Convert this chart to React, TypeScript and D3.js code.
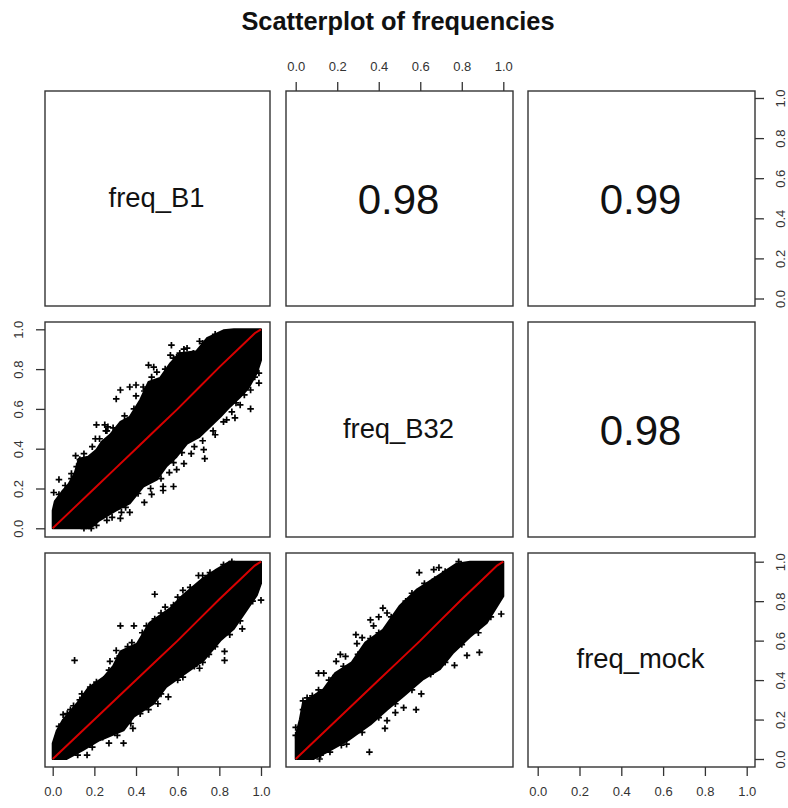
import React, { useEffect, useRef } from 'react';
import * as d3 from 'd3';

type Pt = [number, number];

// constants
const width = 788;
const height = 808;
const inkColor = '#333';
const labelColor = '#333';

// data
const title = 'Scatterplot of frequencies';
const tickValues = [0, 0.2, 0.4, 0.6, 0.8, 1];
const variableNames = ['freq_B1', 'freq_B32', 'freq_mock'];
const correlations = [
  { row: 0, col: 1, value: '0.98' },
  { row: 0, col: 2, value: '0.99' },
  { row: 1, col: 2, value: '0.98' },
];

// outline of the solid part of each cloud
const cloudB32vsB1: Pt[] = [
  [0, 0.09], [0.01, 0.135], [0.045, 0.185], [0.075, 0.22], [0.105, 0.275], [0.125, 0.35], [0.17, 0.36],
  [0.21, 0.395], [0.235, 0.435], [0.275, 0.47], [0.325, 0.535], [0.37, 0.56], [0.42, 0.645], [0.46, 0.735],
  [0.515, 0.755], [0.565, 0.83], [0.61, 0.88], [0.69, 0.89], [0.74, 0.955], [0.82, 0.995], [0.87, 1], [1, 1],
  [1, 0.845], [0.98, 0.78], [0.94, 0.705], [0.9, 0.66], [0.85, 0.61], [0.805, 0.56], [0.755, 0.51], [0.705, 0.46],
  [0.645, 0.425], [0.595, 0.36], [0.545, 0.31], [0.5, 0.245], [0.435, 0.21], [0.37, 0.125], [0.305, 0.09],
  [0.225, 0.04], [0.18, 0], [0, 0],
];
const cloudMockVsB1: Pt[] = [
  [0, 0.08], [0.02, 0.145], [0.05, 0.2], [0.115, 0.28], [0.17, 0.36], [0.245, 0.415], [0.29, 0.47], [0.325, 0.545],
  [0.405, 0.585], [0.465, 0.69], [0.565, 0.765], [0.625, 0.83], [0.72, 0.915], [0.785, 0.96], [0.85, 1], [1, 1],
  [1, 0.89], [0.98, 0.83], [0.925, 0.745], [0.87, 0.66], [0.805, 0.6], [0.725, 0.5], [0.645, 0.44], [0.545, 0.365],
  [0.485, 0.28], [0.39, 0.215], [0.34, 0.145], [0.225, 0.095], [0.145, 0.045], [0.065, 0], [0, 0],
];
const cloudMockVsB32: Pt[] = [
  [0, 0.12], [0.02, 0.2], [0.035, 0.285], [0.085, 0.32], [0.135, 0.355], [0.19, 0.435], [0.27, 0.49], [0.335, 0.59],
  [0.42, 0.655], [0.5, 0.775], [0.585, 0.86], [0.68, 0.925], [0.775, 0.99], [0.84, 1], [1, 1],
  [1, 0.825], [0.97, 0.775], [0.92, 0.69], [0.84, 0.62], [0.76, 0.54], [0.695, 0.455], [0.615, 0.405], [0.52, 0.32],
  [0.44, 0.25], [0.36, 0.175], [0.26, 0.1], [0.15, 0.035], [0.085, 0], [0, 0],
];

// points that sit clear of the solid part, or roughen its edge
const strayB32vsB1: Pt[] = [
  [0.57, 0.92], [0.46, 0.82], [0.485, 0.81], [0.565, 0.87], [0.58, 0.855], [0.645, 0.905], [0.61, 0.88], [0.675, 0.88],
  [0.705, 0.94], [0.755, 0.93], [0.325, 0.695], [0.305, 0.65], [0.37, 0.71], [0.4, 0.72], [0.435, 0.71], [0.21, 0.52],
  [0.25, 0.52], [0.265, 0.51], [0.26, 0.49], [0.205, 0.45], [0.11, 0.365], [0.13, 0.345], [0.09, 0.275], [0.03, 0.245],
  [0.005, 0.18], [0.53, 0.21], [0.53, 0.19], [0.58, 0.21], [0.475, 0.17], [0.44, 0.13], [0.37, 0.08], [0.285, 0.055],
  [0.325, 0.05], [0.185, 0], [0.665, 0.375], [0.725, 0.395], [0.73, 0.35], [0.63, 0.325], [0.595, 0.295], [0.95, 0.6],
  [0.9, 0.62], [0.875, 0.555], [0.835, 0.545], [0.78, 0.47], [0.99, 0.78], [0.99, 0.73], [0.95, 0.695], [0.97, 0.805],
  [0.03, 0.17], [0.06, 0.215], [0.09, 0.25], [0.115, 0.31], [0.15, 0.375], [0.19, 0.41], [0.225, 0.45], [0.255, 0.49],
  [0.29, 0.505], [0.345, 0.565], [0.39, 0.6], [0.4, 0.665], [0.44, 0.69], [0.475, 0.76], [0.5, 0.785], [0.54, 0.8],
  [0.595, 0.86], [0.63, 0.9], [0.72, 0.93], [0.78, 0.975], [0.97, 0.76], [0.92, 0.67], [0.88, 0.63], [0.86, 0.585],
  [0.82, 0.535], [0.77, 0.49], [0.72, 0.44], [0.68, 0.41], [0.62, 0.38], [0.58, 0.33], [0.56, 0.28], [0.52, 0.25],
  [0.47, 0.2], [0.41, 0.175], [0.35, 0.105], [0.33, 0.08], [0.26, 0.04], [0.21, 0.015], [0.15, 0],
];
const strayMockVsB1: Pt[] = [
  [0.105, 0.5], [0.325, 0.675], [0.39, 0.675], [0.49, 0.835], [0.34, 0.08], [0.385, 0.155], [0.375, 0.18], [0.825, 0.545],
  [0.825, 0.5], [0.91, 0.66], [1, 0.805], [0.7, 0.93], [0.72, 0.93], [0.625, 0.855], [0.86, 1], [0.05, 0.225],
  [0.13, 0.3], [0.18, 0.365], [0.085, 0.25], [0.275, 0.495], [0.305, 0.55], [0.38, 0.59], [0.49, 0.71], [0.58, 0.78],
  [0.755, 0.945], [0.705, 0.46], [0.72, 0.49], [0.625, 0.415], [0.555, 0.315], [0.505, 0.28], [0.24, 0.11], [0.165, 0.02],
  [0.03, 0.165], [0.07, 0.23], [0.1, 0.27], [0.14, 0.33], [0.21, 0.39], [0.27, 0.45], [0.31, 0.51], [0.36, 0.57],
  [0.43, 0.64], [0.45, 0.675], [0.52, 0.74], [0.54, 0.77], [0.6, 0.82], [0.66, 0.87], [0.75, 0.93], [0.82, 0.985],
  [0.96, 0.8], [0.9, 0.7], [0.85, 0.63], [0.78, 0.57], [0.75, 0.53], [0.68, 0.47], [0.6, 0.4], [0.52, 0.33],
  [0.46, 0.25], [0.42, 0.23], [0.31, 0.12], [0.27, 0.08], [0.19, 0.06], [0.12, 0.02],
];
const strayMockVsB32: Pt[] = [
  [0.355, 0.035], [0.58, 0.25], [0.48, 0.235], [0.44, 0.195], [0.43, 0.155], [0.605, 0.33], [0.52, 0.26], [0.885, 0.54],
  [0.825, 0.525], [0.765, 0.475], [0.99, 0.735], [0.11, 0.435], [0.135, 0.435], [0.18, 0.41], [0.29, 0.63], [0.32, 0.615],
  [0.295, 0.585], [0.36, 0.705], [0.375, 0.675], [0.4, 0.72], [0.42, 0.765], [0.44, 0.74], [0.595, 0.945], [0.69, 0.97],
  [0.665, 0.96], [0.785, 1], [0.67, 0.91], [0.08, 0.32], [0.035, 0.295], [0.035, 0.25], [0, 0.16], [0, 0.12],
  [0.215, 0.53], [0.24, 0.52], [0.195, 0.495], [0.115, 0], [0.245, 0.075], [0.165, 0.035],
  [0.055, 0.31], [0.11, 0.35], [0.16, 0.4], [0.23, 0.47], [0.3, 0.53], [0.36, 0.61], [0.4, 0.64], [0.46, 0.72],
  [0.53, 0.8], [0.56, 0.84], [0.62, 0.89], [0.72, 0.95], [0.94, 0.72], [0.88, 0.64], [0.8, 0.58], [0.72, 0.49],
  [0.65, 0.43], [0.56, 0.35], [0.48, 0.28], [0.4, 0.21], [0.32, 0.135], [0.22, 0.07], [0.12, 0.02],
];

// smoother line, the same in the three lower panels to within a pixel
const smoothX = [0, 0.1, 0.2, 0.3, 0.4, 0.5, 0.6, 0.7, 0.8, 0.9, 0.97, 1];
const smoothY = [0, 0.1, 0.2, 0.3, 0.4, 0.5, 0.6, 0.705, 0.81, 0.91, 0.98, 1];

const lowerPanels = [
  { row: 1, col: 0, cloud: cloudB32vsB1, stray: strayB32vsB1 },
  { row: 2, col: 0, cloud: cloudMockVsB1, stray: strayMockVsB1 },
  { row: 2, col: 1, cloud: cloudMockVsB32, stray: strayMockVsB32 },
];

// panel frames
const colFrames = [[45, 270], [286, 513], [528, 755]];
const rowFrames = [[91, 306], [322, 537], [553, 767]];

// scales, one per column and row
const xScales = [[52.7, 261], [295.7, 503.3], [537.7, 746.7]].map(r => d3.scaleLinear().domain([0, 1]).range(r));
const yScales = [[298.5, 98], [528.3, 329.3], [759, 561.7]].map(r => d3.scaleLinear().domain([0, 1]).range(r));

const axisFormat = d3.format('.1f');

const App = () => {
  const svgRef = useRef<SVGSVGElement>(null);

  useEffect(() => {
    const svg = d3.select(svgRef.current);
    svg.selectAll('*').remove();

    const blur = svg.append('defs').append('filter').attr('id', 'soft');
    blur.append('feGaussianBlur').attr('stdDeviation', 0.35);

    svg.append('text')
      .attr('x', 398).attr('y', 30)
      .attr('text-anchor', 'middle')
      .style('font', 'bold 25.4px "Liberation Sans"')
      .attr('fill', '#111')
      .text(title);

    // scatter panels
    const marks = svg.append('g').attr('filter', 'url(#soft)');
    const plus = d3.symbol().type(d3.symbolPlus).size(16)();
    lowerPanels.forEach(p => {
      const x = xScales[p.col];
      const y = yScales[p.row];
      const g = marks.append('g');
      g.append('path')
        .attr('d', d3.line().x(d => x(d[0])).y(d => y(d[1]))(p.cloud) + 'Z')
        .attr('fill', '#000').attr('stroke', '#000').attr('stroke-width', 2).attr('stroke-linejoin', 'round');
      g.selectAll('.stray').data(p.stray).join('path')
        .attr('class', 'stray')
        .attr('d', plus)
        .attr('transform', d => `translate(${x(d[0])},${y(d[1])})`)
        .attr('fill', 'none').attr('stroke', '#000').attr('stroke-width', 1.7);
      const smooth = d3.line<number>().x(d => x(d)).y((d, i) => y(smoothY[i]));
      g.append('path')
        .attr('d', smooth(smoothX))
        .attr('fill', 'none').attr('stroke', '#d80000').attr('stroke-width', 2);
    });

    // frames
    const frames = svg.append('g').attr('filter', 'url(#soft)');
    rowFrames.forEach(r => colFrames.forEach(c => {
      frames.append('rect')
        .attr('x', c[0]).attr('y', r[0])
        .attr('width', c[1] - c[0]).attr('height', r[1] - r[0])
        .attr('fill', 'none').attr('stroke', inkColor).attr('stroke-width', 1.4);
    }));

    // axes alternate around the outside, as pairs() does
    const styleAxis = (g: any) => {
      g.select('.domain').remove();
      g.selectAll('line').attr('stroke', inkColor).attr('stroke-width', 1.3);
      g.selectAll('text')
        .attr('fill', labelColor)
        .style('font', '13px "Liberation Sans"');
    };
    const rotateLabels = (g: any, offset: number) => {
      g.selectAll('text')
        .attr('transform', 'rotate(-90)')
        .attr('text-anchor', 'middle')
        .attr('x', 0).attr('y', offset).attr('dy', 0);
    };
    const axisOf = (axis: any) => axis.tickValues(tickValues).tickFormat(axisFormat).tickSize(9).tickPadding(11);

    [0, 2].forEach(c => {
      svg.append('g')
        .attr('transform', `translate(0,${rowFrames[2][1]})`)
        .call(axisOf(d3.axisBottom(xScales[c])))
        .call(styleAxis);
    });
    svg.append('g')
      .attr('transform', `translate(0,${rowFrames[0][0]})`)
      .call(axisOf(d3.axisTop(xScales[1])))
      .call(styleAxis);
    svg.append('g')
      .attr('transform', `translate(${colFrames[0][0]},0)`)
      .call(axisOf(d3.axisLeft(yScales[1])))
      .call(styleAxis)
      .call((g: any) => rotateLabels(g, -22.5));
    [0, 2].forEach(r => {
      svg.append('g')
        .attr('transform', `translate(${colFrames[2][1]},0)`)
        .call(axisOf(d3.axisRight(yScales[r])))
        .call(styleAxis)
        .call((g: any) => rotateLabels(g, 30));
    });

    // diagonal names
    variableNames.forEach((name, i) => {
      svg.append('text')
        .attr('x', d3.mean(colFrames[i])! - 1)
        .attr('y', d3.mean(rowFrames[i])! + 8)
        .attr('text-anchor', 'middle')
        .style('font', '27.4px "Liberation Sans"')
        .attr('fill', '#111')
        .text(name);
    });

    // correlations
    correlations.forEach(d => {
      svg.append('text')
        .attr('x', d3.mean(colFrames[d.col])! - 1)
        .attr('y', d3.mean(rowFrames[d.row])! + 15)
        .attr('text-anchor', 'middle')
        .style('font', '42px "Liberation Sans"')
        .attr('fill', '#111')
        .text(d.value);
    });
  }, []);

  return (
    <svg
      ref={svgRef}
      width={width}
      height={height}
      style={{ position: 'absolute', left: 0, top: 0, background: '#fff' }}
    />
  );
};

export default App;
